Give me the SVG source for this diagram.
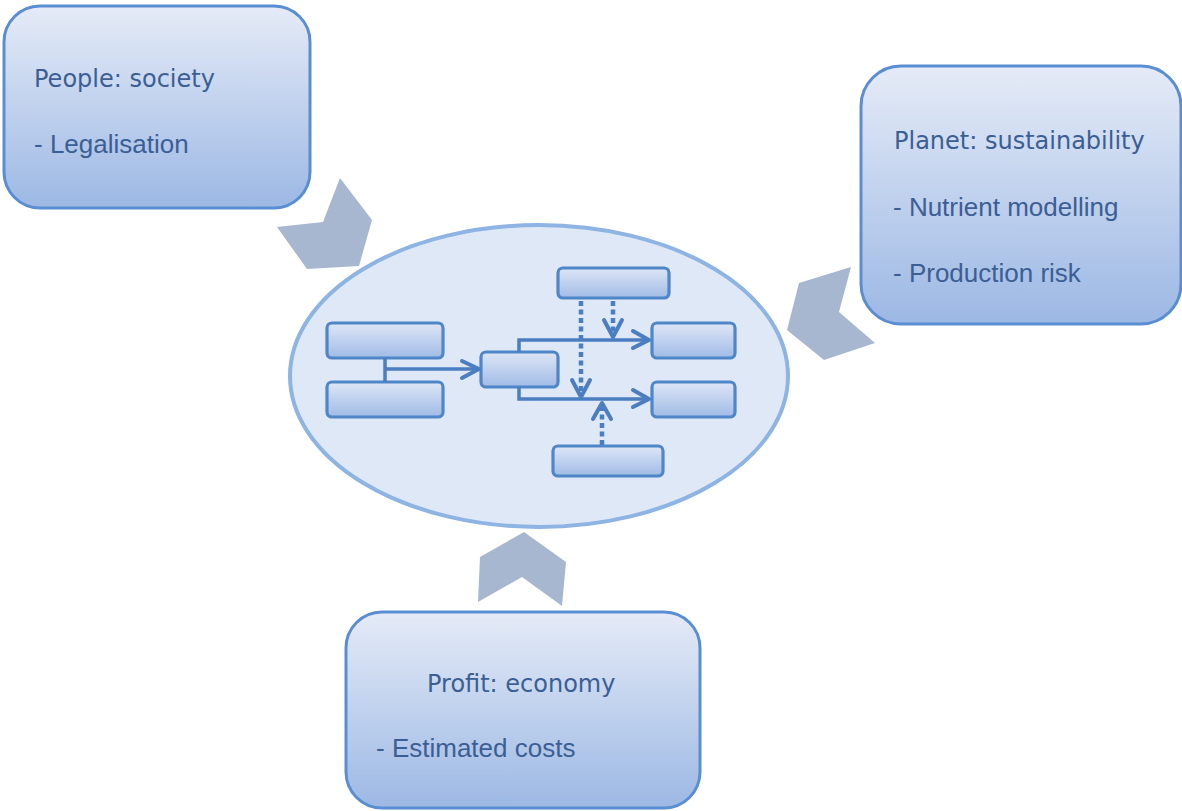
<svg xmlns="http://www.w3.org/2000/svg" width="1182" height="811" viewBox="0 0 1182 811">
<defs>
<linearGradient id="gBox" x1="0" y1="0" x2="0" y2="1">
<stop offset="0" stop-color="#E5EBF7"/>
<stop offset="1" stop-color="#9CB8E4"/>
</linearGradient>
<linearGradient id="gSmall" x1="0" y1="0" x2="0" y2="1">
<stop offset="0" stop-color="#DEE6F6"/>
<stop offset="1" stop-color="#A0BBE6"/>
</linearGradient>
<style>
.box{fill:url(#gBox);stroke:#5A8ED3;stroke-width:3}
.sm{fill:url(#gSmall);stroke:#4F86C8;stroke-width:3.2}
.chev{fill:#A8B7D0}
.ln{fill:none;stroke:#4A7EC0;stroke-width:3.5}
.dot{fill:none;stroke:#4A7EC0;stroke-width:4.5;stroke-dasharray:5 3.5}
.ah{fill:none;stroke:#4A7EC0;stroke-width:4;stroke-linecap:round;stroke-linejoin:round}
.t1{font-family:"DejaVu Sans",sans-serif;font-size:24px;fill:#3B5E94}
.t2{font-family:"Liberation Sans",Arial,sans-serif;font-size:26px;fill:#3B5E94}
</style>
</defs>
<rect width="1182" height="811" fill="#FFFFFF"/>
<g id="chevrons">
<polygon class="chev" points="340,178 372,220 359,266 307,269 277,227 323,222"/>
<polygon class="chev" points="851,267 839,312 875,343 824,360 787,330 799,283"/>
<polygon class="chev" points="524,532 566,562 562,606 522,577 478,602 480,557"/>
</g>
<g id="people">
<rect class="box" x="4" y="6" width="306" height="202" rx="36"/>
<text class="t1" x="34" y="87">People: society</text>
<text class="t2" x="34" y="153">- Legalisation</text>
</g>
<g id="planet">
<rect class="box" x="861" y="66" width="320" height="258" rx="40"/>
<text class="t1" x="894" y="149">Planet: sustainability</text>
<text class="t2" x="893" y="216">- Nutrient modelling</text>
<text class="t2" x="893" y="282">- Production risk</text>
</g>
<g id="profit">
<rect class="box" x="346" y="612" width="354" height="196" rx="36"/>
<text class="t1" x="427" y="692">Profit: economy</text>
<text class="t2" x="376" y="757">- Estimated costs</text>
</g>
<g id="model">
<ellipse cx="539" cy="376" rx="249" ry="151" fill="#DFE8F6" stroke="#8DB4E2" stroke-width="4"/>
<g id="rA"><rect class="sm" x="327" y="323" width="116" height="35" rx="5"/></g>
<g id="rB"><rect class="sm" x="327" y="382" width="116" height="35" rx="5"/></g>
<g id="rC"><rect class="sm" x="481" y="352" width="77" height="35" rx="5"/></g>
<g id="rD"><rect class="sm" x="558" y="268" width="111" height="30" rx="5"/></g>
<g id="rE"><rect class="sm" x="652" y="323" width="83" height="35" rx="5"/></g>
<g id="rF"><rect class="sm" x="652" y="382" width="83" height="35" rx="5"/></g>
<g id="rG"><rect class="sm" x="553" y="446" width="110" height="30" rx="5"/></g>
</g>
<g id="connectors">
<path class="ln" d="M385,358 V382 M385,369 H479"/>
<path class="ah" d="M462,361 L479,369 L462,378"/>
<path class="ln" d="M519,352 V340 H649"/>
<path class="ah" d="M633,331 L649,340 L633,348"/>
<path class="ln" d="M519,387 V399 H649"/>
<path class="ah" d="M633,390 L649,399 L633,407"/>
<path class="dot" d="M613,301 V334"/>
<path class="ah" d="M604,320 L613,337 L622,320"/>
<path class="dot" d="M581,301 V394"/>
<path class="ah" d="M572,380 L581,397 L590,380"/>
<path class="dot" d="M602,445 V406"/>
<path class="ah" d="M593,419 L602,403 L611,419"/>
</g>
</svg>
